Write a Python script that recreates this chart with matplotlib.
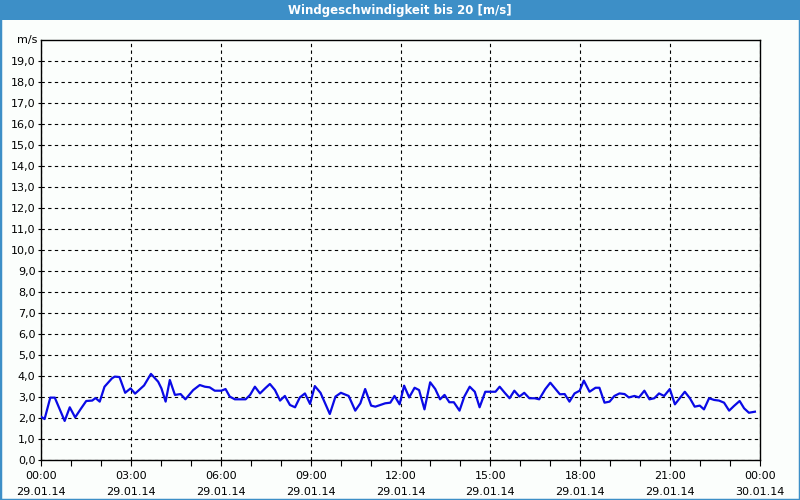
import matplotlib
matplotlib.use("Agg")
import matplotlib.pyplot as plt
from matplotlib.patches import Rectangle
from matplotlib.ticker import MultipleLocator

title = "Windgeschwindigkeit bis 20 [m/s]"
unit_label = "m/s"

hours = [0.0, 0.12, 0.31, 0.46, 0.79, 0.96, 1.14, 1.34, 1.51, 1.71, 1.82, 1.96,
         2.12, 2.37, 2.46, 2.62, 2.81, 2.99, 3.14, 3.44, 3.67, 3.91, 4.02, 4.16,
         4.30, 4.47, 4.66, 4.82, 5.08, 5.30, 5.47, 5.63, 5.80, 6.02, 6.16, 6.30,
         6.47, 6.83, 6.98, 7.14, 7.31, 7.48, 7.64, 7.81, 7.98, 8.14, 8.31, 8.48,
         8.64, 8.81, 8.98, 9.14, 9.33, 9.64, 9.83, 10.01, 10.15, 10.27, 10.49,
         10.66, 10.82, 11.02, 11.16, 11.32, 11.49, 11.66, 11.80, 11.97, 12.12,
         12.29, 12.47, 12.62, 12.80, 12.99, 13.16, 13.32, 13.47, 13.63, 13.78,
         13.97, 14.13, 14.31, 14.48, 14.64, 14.83, 15.17, 15.31, 15.48, 15.64,
         15.80, 15.97, 16.13, 16.30, 16.48, 16.63, 16.83, 17.00, 17.32, 17.48,
         17.64, 17.81, 17.98, 18.12, 18.31, 18.51, 18.64, 18.81, 18.98, 19.14,
         19.31, 19.48, 19.62, 19.81, 19.96, 20.14, 20.31, 20.47, 20.63, 20.80,
         20.99, 21.16, 21.32, 21.49, 21.66, 21.82, 21.99, 22.13, 22.30, 22.47,
         22.63, 22.80, 22.97, 23.13, 23.32, 23.47, 23.63, 23.83]
speed = [2.06, 1.95, 2.97, 2.97, 1.86, 2.51, 2.03, 2.46, 2.81, 2.83, 2.95, 2.78,
         3.49, 3.89, 3.97, 3.95, 3.20, 3.41, 3.16, 3.55, 4.10, 3.73, 3.41, 2.78,
         3.81, 3.10, 3.14, 2.89, 3.33, 3.57, 3.49, 3.46, 3.30, 3.30, 3.38, 3.02,
         2.89, 2.89, 3.10, 3.49, 3.17, 3.41, 3.62, 3.33, 2.83, 3.05, 2.62, 2.51,
         2.98, 3.17, 2.67, 3.52, 3.20, 2.19, 3.02, 3.20, 3.12, 3.05, 2.35,
         2.70, 3.38, 2.59, 2.54, 2.62, 2.70, 2.73, 3.05, 2.65, 3.54,
         2.98, 3.44, 3.33, 2.41, 3.70, 3.38, 2.89, 3.10, 2.75, 2.75,
         2.35, 3.02, 3.49, 3.25, 2.51, 3.25, 3.25, 3.49, 3.20, 2.94,
         3.30, 3.02, 3.20, 2.94, 2.94, 2.89, 3.37, 3.68, 3.13, 3.14,
         2.78, 3.17, 3.30, 3.78, 3.25, 3.44, 3.44, 2.73, 2.78, 3.05,
         3.17, 3.14, 2.98, 3.05, 2.98, 3.30, 2.89, 2.94, 3.17, 3.05,
         3.38, 2.65, 2.94, 3.25, 2.94, 2.54, 2.59, 2.41, 2.94, 2.86,
         2.83, 2.73, 2.35, 2.57, 2.81, 2.46, 2.25, 2.30]

x_tick_hours = [0, 3, 6, 9, 12, 15, 18, 21, 24]
x_tick_labels = ["00:00\n29.01.14", "03:00\n29.01.14", "06:00\n29.01.14",
                 "09:00\n29.01.14", "12:00\n29.01.14", "15:00\n29.01.14",
                 "18:00\n29.01.14", "21:00\n29.01.14", "00:00\n30.01.14"]
y_ticks = list(range(0, 20))
y_tick_labels = [f"{v},0" for v in y_ticks]

BLUE_BAR = "#3d8fc7"
BG = "#fbfefc"

fig = plt.figure(figsize=(8, 5), dpi=100, facecolor=BG)

# title bar and frame
fig.patches.append(Rectangle((0, 1 - 20 / 500), 1, 20 / 500, transform=fig.transFigure,
                             facecolor=BLUE_BAR, edgecolor="none", zorder=0))
fig.patches.append(Rectangle((0, 0), 1, 1, transform=fig.transFigure,
                             facecolor="none", edgecolor=BLUE_BAR, linewidth=2.5, zorder=1))
fig.text(0.5, 1 - 10.5 / 500, title, ha="center", va="center", color="white",
         fontsize=8.5, fontweight="bold", family="DejaVu Sans")

ax = fig.add_axes([41 / 800, 40 / 500, 719 / 800, 420 / 500])
ax.set_facecolor(BG)
ax.plot(hours, speed, color="#0a0ae6", linewidth=1.6, zorder=3)

ax.set_xlim(0, 24)
ax.set_ylim(0, 20)
ax.set_xticks(x_tick_hours)
ax.set_xticklabels(x_tick_labels, fontsize=8, linespacing=1.75)
ax.xaxis.set_minor_locator(MultipleLocator(1))
ax.set_yticks(y_ticks)
ax.set_yticklabels(y_tick_labels, fontsize=8)
ax.tick_params(axis="x", which="both", direction="out", length=4, width=0.8, pad=4)
ax.tick_params(axis="y", which="both", direction="out", length=2, width=0.8, pad=2)
ax.grid(True, which="major", color="black", linestyle=(0, (3, 3)), linewidth=0.8)
for s in ax.spines.values():
    s.set_color("black")
    s.set_linewidth(1.0)

ax.text(-0.005, 20, unit_label, transform=ax.get_yaxis_transform(), ha="right",
        va="center", fontsize=8)

fig.savefig("out.png", dpi=100, facecolor=BG)
